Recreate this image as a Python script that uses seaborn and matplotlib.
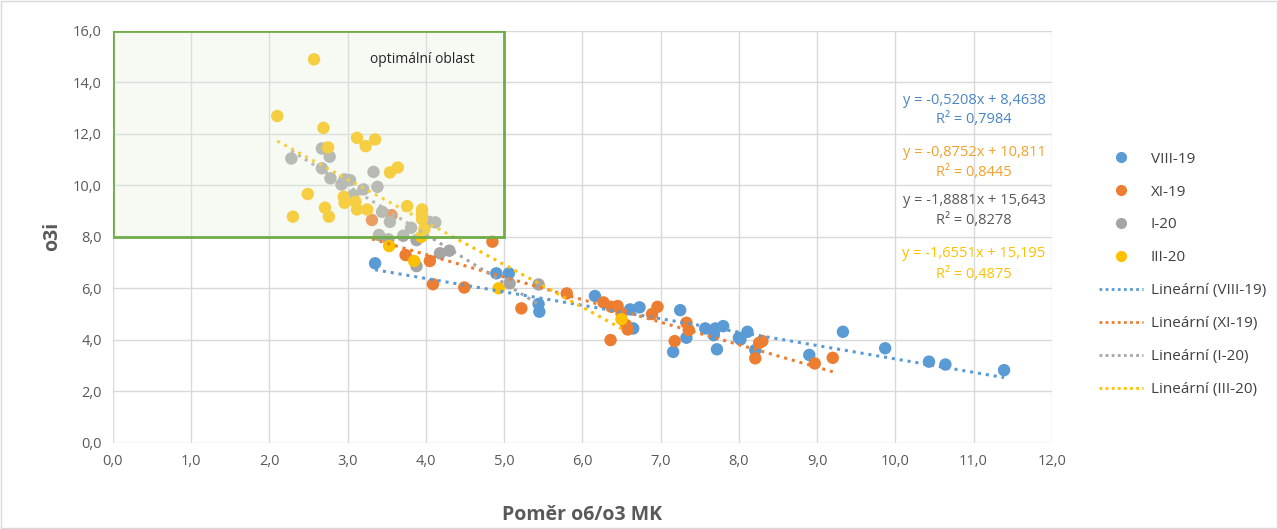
import matplotlib
matplotlib.use("Agg")
import matplotlib.pyplot as plt
import matplotlib.patches as patches
from matplotlib.lines import Line2D
from matplotlib.ticker import FuncFormatter, MultipleLocator
import seaborn as sns
import pandas as pd
import numpy as np

# series names and colours
series = ["VIII-19", "XI-19", "I-20", "III-20"]
colors = ["#5b9bd5", "#ed7d31", "#a5a5a5", "#ffc000"]
eq_colors = ["#4a86c5", "#f5a02a", "#595959", "#ffc000"]

x_viii = [3.35, 4.90, 5.06, 5.44, 5.45, 6.16, 6.61, 6.73, 6.65, 7.25, 7.16, 7.33, 7.57, 7.70,
          7.80, 7.68, 7.72, 8.00, 8.02, 8.11, 8.21, 8.90, 9.33, 9.87, 10.43, 10.64, 11.39]
y_viii = [6.97, 6.58, 6.58, 5.39, 5.09, 5.70, 5.18, 5.26, 4.44, 5.15, 3.53, 4.08, 4.44, 4.44,
          4.53, 4.18, 3.63, 4.08, 4.01, 4.31, 3.60, 3.41, 4.31, 3.67, 3.15, 3.04, 2.82]

x_xi = [3.56, 3.31, 4.85, 3.74, 4.05, 4.09, 4.49, 5.22, 5.80, 6.27, 6.37, 6.45, 6.50, 6.56,
        6.58, 6.36, 6.89, 6.96, 7.18, 7.33, 7.36, 8.21, 8.26, 8.30, 8.97, 9.20]
y_xi = [8.84, 8.65, 7.81, 7.29, 7.06, 6.16, 6.03, 5.22, 5.80, 5.45, 5.28, 5.31, 5.02, 4.57,
        4.40, 3.99, 5.00, 5.28, 3.95, 4.66, 4.38, 3.28, 3.88, 3.95, 3.08, 3.30]

x_i = [2.28, 2.67, 2.77, 2.67, 2.78, 2.92, 2.96, 3.03, 3.07, 3.20, 3.33, 3.38, 3.44, 3.54,
       3.40, 3.52, 3.71, 3.81, 3.88, 4.04, 4.12, 3.88, 4.18, 4.30, 5.07, 5.44]
y_i = [11.04, 11.43, 11.11, 10.66, 10.27, 10.03, 10.23, 10.20, 9.62, 9.84, 10.52, 9.94, 8.97, 8.58,
       8.07, 7.90, 8.04, 8.35, 7.87, 8.58, 8.56, 6.86, 7.36, 7.46, 6.19, 6.15]

x_iii = [2.57, 2.10, 2.69, 2.75, 3.12, 3.23, 3.35, 2.49, 2.30, 2.71, 2.76, 2.95, 2.96, 3.10,
         3.12, 3.25, 3.54, 3.64, 3.76, 3.95, 3.95, 3.95, 3.98, 3.94, 3.53, 3.85, 4.93, 6.50]
y_iii = [14.89, 12.69, 12.23, 11.47, 11.84, 11.52, 11.78, 9.66, 8.78, 9.13, 8.78, 9.55, 9.32, 9.36,
         9.06, 9.06, 10.50, 10.69, 9.19, 9.06, 8.87, 8.68, 8.29, 8.00, 7.64, 7.06, 6.00, 4.80]

# trendline coefficients as printed on the chart
slopes = [-0.5208, -0.8752, -1.8881, -1.6551]
intercepts = [8.4638, 10.811, 15.643, 15.195]
r2 = [0.7984, 0.8445, 0.8278, 0.4875]

xs = [x_viii, x_xi, x_i, x_iii]
ys = [y_viii, y_xi, y_i, y_iii]

df = pd.concat([pd.DataFrame({"x": a, "y": b, "serie": s}) for a, b, s in zip(xs, ys, series)])

trend = []
for a, s, k, q in zip(xs, series, slopes, intercepts):
    lo, hi = min(a), max(a)
    trend.append(pd.DataFrame({"x": [lo, hi], "y": [k * lo + q, k * hi + q], "serie": s}))
trend = pd.concat(trend)

sns.set_style("white")
plt.rcParams['font.family'] = ['Open Sans', 'DejaVu Sans']

fig = plt.figure(figsize=(12.78, 5.29), dpi=100)
ax = fig.add_axes([0.0884, 0.163, 0.7346, 0.7788])

sns.scatterplot(data=df, x="x", y="y", hue="serie", palette=colors, hue_order=series,
                s=80, edgecolor="none", legend=False, ax=ax, zorder=3)
for s, c in zip(series, colors):
    sub = trend[trend.serie == s]
    ax.plot(sub.x, sub.y, color=c, lw=2.2, linestyle=(0, (1, 1.6)), zorder=4)

ax.set_xlim(0, 12)
ax.set_ylim(0, 16)
ax.xaxis.set_major_locator(MultipleLocator(1))
ax.yaxis.set_major_locator(MultipleLocator(2))
fmt = FuncFormatter(lambda v, p: f"{v:.1f}".replace(".", ","))
ax.xaxis.set_major_formatter(fmt)
ax.yaxis.set_major_formatter(fmt)
ax.grid(True, color="#d9d9d9", lw=1)
ax.set_axisbelow(True)
for sp in ax.spines.values():
    sp.set_visible(False)
ax.tick_params(axis="both", length=0, labelsize=10.5, labelcolor="#595959", pad=8)
ax.set_xlabel("Poměr o6/o3 MK", fontsize=14, fontweight="bold", color="#595959", labelpad=26)
ax.set_ylabel("o3i", fontsize=14, fontweight="bold", color="#595959", labelpad=8)

# optimal area box
rect = patches.Rectangle((0, 8), 5, 8, facecolor="#e2efda", alpha=0.3, edgecolor="none", zorder=5)
ax.add_patch(rect)
ax.add_patch(patches.Rectangle((0, 8), 5, 8, facecolor="none", edgecolor="#70ad47", lw=2, zorder=6))
ax.text(3.95, 14.9, "optimální oblast", ha="center", va="center", fontsize=10, color="#262626", zorder=7)

# regression equations
eq_y = [100, 152, 200, 254]
for yy, k, q, r, c in zip(eq_y, slopes, intercepts, r2, eq_colors):
    eq = f"y = {k:.4f}x + {q:g}".replace(".", ",")
    fig.text(974 / 1278, 1 - yy / 529, eq, ha="center", va="center", fontsize=10.5, color=c)
    fig.text(974 / 1278, 1 - (yy + 20) / 529, f"R² = {r:.4f}".replace(".", ","),
             ha="center", va="center", fontsize=10.5, color=c)

handles = [Line2D([], [], marker="o", ls="none", color=c, markersize=7) for c in colors]
handles += [Line2D([], [], color=c, lw=2, ls=(0, (1, 1.2))) for c in colors]
labels = series + [f"Lineární ({s})" for s in series]
fig.legend(handles, labels, loc="upper left", bbox_to_anchor=(1085 / 1278, 1 - 138 / 529),
           frameon=False, fontsize=11, labelspacing=1.17, handlelength=2.9, handletextpad=0.5,
           labelcolor="#404040")

fig.patches.append(patches.Rectangle((0.001, 0.001), 0.998, 0.998, transform=fig.transFigure,
                                     fill=False, edgecolor="#d9d9d9", lw=1))

fig.savefig("out.png", dpi=100)
